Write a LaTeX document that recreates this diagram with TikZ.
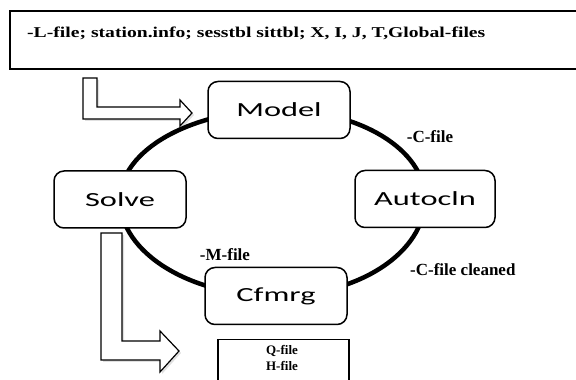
\documentclass[tikz,border=0pt]{standalone}
\usepackage{fontspec}
\setmainfont{Liberation Serif}
\newfontfamily\stagefont[FakeStretch=1.62]{Carlito}
\newfontfamily\listfont[FakeStretch=1.31]{Liberation Serif}
\usetikzlibrary{backgrounds}

\begin{document}
\begin{tikzpicture}[x=1pt,y=1pt,
  stage/.style={draw=black, line width=1.5pt, rounded corners=10pt, fill=white,
    inner sep=0pt, minimum height=57pt,
    font=\stagefont\fontsize{20}{24}\selectfont},
  filebox/.style={draw=black, line width=2.2pt, fill=white, inner sep=0pt},
  outbox/.style={draw=black, line width=1.5pt, fill=white, inner sep=0pt},
  flowlabel/.style={font=\bfseries\fontsize{17}{20}\selectfont, inner sep=0pt},
  ring/.style={draw=black, line width=4.5pt},
  hollow/.style={draw=black, line width=1.2pt, fill=white, line join=miter},
  hollowshadow/.style={fill=black, opacity=0.12}]

\useasboundingbox (0,0) rectangle (576,380);

% input file list
\node[filebox, anchor=north west, minimum width=600pt, minimum height=58pt] (files) at (9,370) {};
\node[font=\listfont\bfseries\fontsize{15}{18}\selectfont, anchor=base west, inner sep=0pt] (filelist) at (27,342)
  {-L-file; station.info; sesstbl sittbl; X, I, J, T,Global-files};

% processing cycle
\node[stage, minimum width=142pt] (model)   at (279,270)   {Model};
\node[stage, minimum width=132pt] (solve)   at (120,180.5) {Solve};
\node[stage, minimum width=140pt] (autocln) at (425,181)   {Autocln};
\node[stage, minimum width=142pt] (cfmrg)   at (276,84)    {Cfmrg};

\begin{pgfonlayer}{background}
  \draw[ring] (model.center) .. controls +(-87.5,0) and +(0,49.4) .. (solve.center);
  \draw[ring] (solve.center) .. controls +(0,-53.3) and +(-85.9,0) .. (cfmrg.center);
  \draw[ring] (cfmrg.center) .. controls +(82.3,0) and +(0,-53.6) .. (autocln.center);
  \draw[ring] (autocln.center) .. controls +(0,49.2) and +(80.6,0) .. (model.center);
\end{pgfonlayer}

% file labels along the cycle
\node[flowlabel] (cfile)    at (430,243) {-C-file};
\node[flowlabel, anchor=west] (cclean) at (410,110) {-C-file cleaned};
\node[flowlabel] (mfile)    at (225,125) {-M-file};

% output files
\node[outbox, anchor=north west, minimum width=131pt, minimum height=60pt] (output) at (217,41) {};
\node[font=\bfseries\fontsize{13}{16}\selectfont, align=center, inner sep=0pt] (outlist) at (282,22)
  {Q-file\\H-file};

% hollow L-shaped arrows
\fill[hollowshadow] (85,300) -- (99,300) -- (99,271) -- (182,271) -- (182,278) -- (194,265)
  -- (182,251.5) -- (182,259) -- (85,259) -- cycle;
\draw[hollow] (83,302) -- (97,302) -- (97,273) -- (180,273) -- (180,280) -- (192,267)
  -- (180,254) -- (180,261) -- (83,261) -- cycle;

\fill[hollowshadow] (103,145) -- (124,145) -- (124,37) -- (162,37) -- (162,47) -- (181,27)
  -- (162,6) -- (162,18) -- (103,18) -- cycle;
\draw[hollow] (101,147) -- (122,147) -- (122,39) -- (160,39) -- (160,49) -- (179,29)
  -- (160,8) -- (160,20) -- (101,20) -- cycle;

\end{tikzpicture}
\end{document}
